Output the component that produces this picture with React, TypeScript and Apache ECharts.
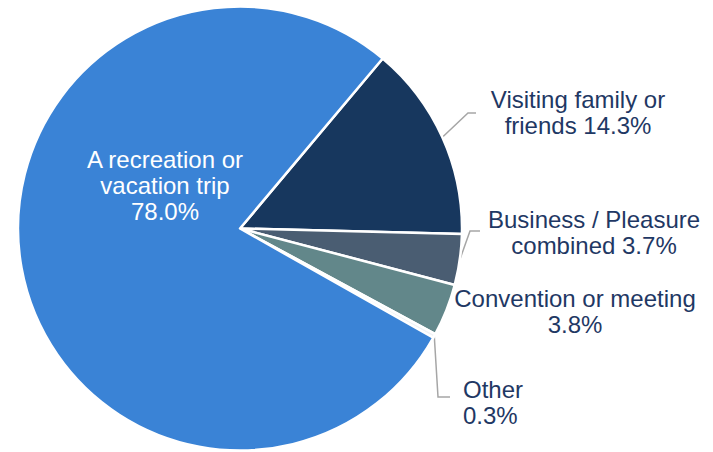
import React, { useEffect, useRef } from "react";
import * as echarts from "echarts";

const categories = [
  "Visiting family or friends",
  "Business / Pleasure combined",
  "Convention or meeting",
  "Other",
  "A recreation or vacation trip",
];
const labelTexts = [
  "Visiting family or\nfriends ",
  "Business / Pleasure\ncombined ",
  "Convention or meeting\n",
  "Other\n",
  "A recreation or\nvacation trip\n",
];
const values = [14.3, 3.7, 3.8, 0.3, 78.0];
const colors = ["#17375E", "#4A5D72", "#62878A", "#F0F3F6", "#3A83D6"];

export default function App() {
  const ref = useRef<HTMLDivElement>(null);
  useEffect(() => {
    if (!ref.current) return;
    const chart = echarts.init(ref.current, null, { renderer: "svg" });
    const textColor = "#1F3864";
    // label anchor placements (label block centres / left edge)
    const placements: any[] = [
      { x: 578, y: 112, align: "center", line: [[-110, 1], [-102, 1]] },
      { x: 594, y: 232, align: "center", line: [[-124, -1], [-114, -1]] },
      { x: 575, y: 311, align: "center", line: null },
      { x: 463, y: 402, align: "left", line: [[-25, -5], [-13, -5]] },
      { x: 165, y: 185, align: "center", line: null },
    ];
    chart.setOption({
      animation: false,
      backgroundColor: "#ffffff",
      series: [
        {
          type: "pie",
          center: [240, 228.5],
          radius: 222,
          startAngle: 50,
          clockwise: true,
          avoidLabelOverlap: false,
          itemStyle: { borderColor: "#ffffff", borderWidth: 2.5 },
          label: {
            show: true,
            position: "outside",
            color: textColor,
            fontFamily: "Liberation Sans, Arial, sans-serif",
            fontSize: 24,
            lineHeight: 26,
            align: "center",
            formatter: (p: any) => labelTexts[p.dataIndex] + values[p.dataIndex].toFixed(1) + "%",
          },
          labelLine: {
            show: true,
            smooth: false,
            lineStyle: { color: "#A6A6A6", width: 1.5 },
          },
          labelLayout: (params: any) => {
            const pl = placements[params.dataIndex];
            const res: any = {
              x: pl.x,
              y: pl.y,
              align: pl.align,
              verticalAlign: "middle",
            };
            if (pl.line && params.labelLinePoints) {
              const start = params.labelLinePoints[0];
              res.labelLinePoints = [
                [start[0], start[1]],
                [pl.x + pl.line[0][0], pl.y + pl.line[0][1]],
                [pl.x + pl.line[1][0], pl.y + pl.line[1][1]],
              ];
            }
            return res;
          },
          data: categories.map((name, i) => {
            const item: any = {
              name,
              value: values[i],
              itemStyle: { color: colors[i] },
            };
            if (i === 4) {
              item.label = { position: "inside", color: "#ffffff" };
              item.labelLine = { show: false };
            }
            if (i === 2) {
              item.labelLine = { show: false };
            }
            return item;
          }),
        },
      ],
    });
    return () => chart.dispose();
  }, []);
  return (
    <div
      ref={ref}
      style={{ position: "absolute", left: 0, top: 0, width: 713, height: 452 }}
    />
  );
}
